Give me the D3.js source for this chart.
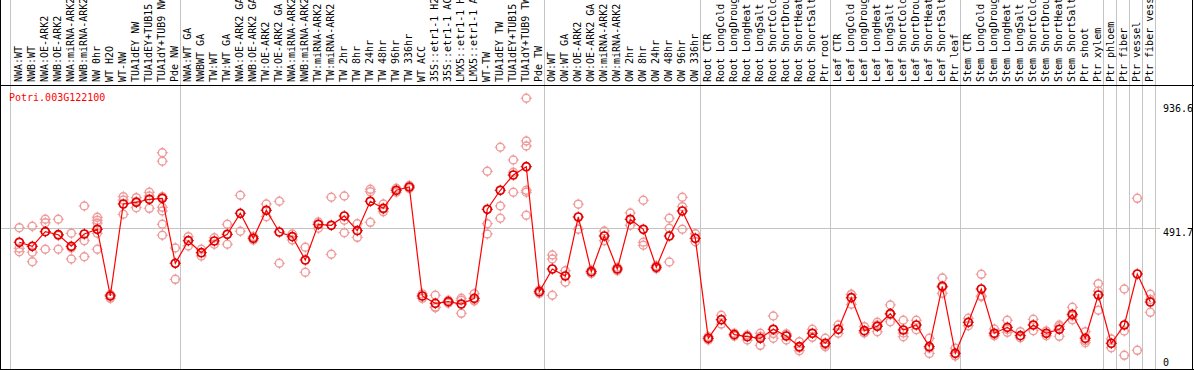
<!DOCTYPE html>
<html><head><meta charset="utf-8">
<script src="https://cdn.jsdelivr.net/npm/d3@7"></script>
<style>
body{margin:0;background:#fff}
svg{display:block}
text{font-family:"DejaVu Sans Mono",monospace;font-size:10px}
</style>
</head><body>
<svg id="c" width="1194" height="370"></svg>
<script>
const geneId = "Potri.003G122100";

const categories = [
  "NWA:WT","NWB:WT","NWA:OE-ARK2","NWB:OE-ARK2","NWA:miRNA-ARK2","NWB:miRNA-ARK2","NW 0hr","WT H2O","WT-NW",
  "TUA1dEY NW","TUA1dEY+TUB15","TUA1dY+TUB9 NW","Pde NW",
  "NWA:WT GA","NWBWT GA","TW:WT","TW:WT GA","NWA:OE-ARK2 GA","NWB:OE-ARK2 GA","TW:OE-ARK2","TW:OE-ARK2 GA",
  "NWA:miRNA-ARK2","NWB:miRNA-ARK2","TW:miRNA-ARK2","TW:miRNA-ARK2","TW 2hr","TW 8hr","TW 24hr","TW 48hr","TW 96hr","TW 336hr",
  "WT ACC","35S::etr1-1 H2O","35S::etr1-1 ACC","LMX5::etr1-1 H2O","LMX5::etr1-1 ACC","WT-TW","TUA1dEY TW","TUA1dEY+TUB15",
  "TUA1dY+TUB9 TW","Pde TW",
  "OW:WT","OW:WT GA","OW:OE-ARK2","OW:OE-ARK2 GA","OW:miRNA-ARK2","OW:miRNA-ARK2","OW 2hr","OW 8hr","OW 24hr","OW 48hr","OW 96hr","OW 336hr",
  "Root CTR","Root LongCold","Root LongDrought","Root LongHeat","Root LongSalt","Root ShortCold","Root ShortDrought","Root ShortHeat","Root ShortSalt","Ptr root",
  "Leaf CTR","Leaf LongCold","Leaf LongDrought","Leaf LongHeat","Leaf LongSalt","Leaf ShortCold","Leaf ShortDrought","Leaf ShortHeat","Leaf ShortSalt","Ptr leaf",
  "Stem CTR","Stem LongCold","Stem LongDrought","Stem LongHeat","Stem LongSalt","Stem ShortCold","Stem ShortDrought","Stem ShortHeat","Stem ShortSalt","Ptr shoot",
  "Ptr xylem","Ptr phloem","Ptr fiber","Ptr vessel","Ptr fiber vessel"
];

const means = [
  441.7,427.3,479.6,468.8,427.3,471.4,488.2,249.5,578.7,584.8,595.6,599.1,366.5,
  447.4,404.4,446.3,470.3,545.4,456.0,556.2,478.5,461.7,378.3,506.1,502.5,535.8,483.2,588.4,563.3,627.8,639.6,
  249.5,223.3,229.1,220.8,241.2,559.8,627.8,682.5,712.2,264.8,
  346.1,321.0,532.2,336.4,464.2,346.1,524.0,488.2,352.2,464.2,553.7,456.0,
  98.1,164.6,111.0,103.8,98.1,130.3,106.3,68.0,116.0,80.2,
  130.3,243.4,125.3,141.0,186.1,127.8,145.7,68.0,284.2,44.4,
  155.3,274.5,116.0,137.4,107.4,145.7,116.0,130.3,184.0,98.1,
  253.0,80.2,145.7,328.2,228.0
];

const replicates = [
  [493.9,420.2,408.0],[498.9,405.9,372.2],[524.0,511.8,416.6],[524.0,416.6,466],[473.9,421.3,381.9],
  [571.6,447.4,390.1],[531.1,520.4,510.7,473.9,416.6],[253,255,241],[604.9,593.0,541.9],[601.3,565.5,587],
  [620.6,607.4,563.3],[762.3,731.6,604.9,566.9,553.7,506.1,466.7],[421.3,309.2],
  [461.7,428.4],[416.6,392.6],[434.5,458],[506.1,434.5],[609.9,481.0],[450,462],[578.7,533.3],[588.4,366.5],
  [471.4,449.9],[423.8,334.3],[514.3,491.8],[602.7,398.7],[607.4,520.4,476.0],[508.2,459.5],[631.3,622.7,513.2],
  [578.7,551.2,560],[620.6,635],[634,645],
  [241.2,257],[252.0,207.6,210],[224,234],[241.2,187.5,234],[257.7,231.6,234],[695.8,508.2,471.4],
  [781.7,571.6,527.6],[736.2,692.2,620.6],[957.0,804.2,786.3,627.8,620.6,538.3],[259,271],
  [396.2,381.9,252.0],[340.0,298.5],[578.0,488.2],[330,342],[482.1,447.4],[340.0,352],[546.5,502.5],
  [592.0,441.7,430.9],[347,358],[527.6,491.8,371.1],[602.7,569.1,488.2],[472.4,443.8],
  [92,104],[180.4,149],[116,106],[109.9,92.0],[116.0,73.0,105],[177.9,98.1,115],[112.4,92.0,114],
  [85.9,53.7,64],[130.3,101.6],[98.1,68.0,74],
  [145.7,116.0],[255.5,219.8,255],[139.6,119.5,117],[155.3,121.7,146],[217.3,157.5,183],[162.5,103.8,117],
  [162.5,129],[98.1,62.3,44],[313.9,259.1,280],[62.3,34.7,36],
  [169.6,143.2],[327.1,247.0,250],[131.3,107.4,109],[162.5,119.5,130],[121.7,100],[166.1,125.3],
  [124.2,107.4],[145.7,105.2,140],[209.0,164.6,178],[121.7,82.3,90],
  [293.5,198.3,267],[95.6,64.4],[274.5,124.2,37.2],[599.1,55.1],[255.5,191.1,237]
];

const axisTicks = [0, 491.7, 936.6];
const gridValues = [491.7];
const groupEnds = [12, 40, 52, 62, 72, 83, 84, 85, 86, 87];

// ---------- drawing ----------
const W = 1194, H = 370;
const svg = d3.select("#c");
const n = categories.length;

const x = d3.scaleBand().domain(d3.range(n)).range([10, 10 + 13 * n]).paddingInner(0).paddingOuter(0);
const cx = i => x(i) + 9.3;
const y = d3.scaleLinear().domain([0, 936.6]).range([365.7, 104]);

const gray = "#c4c4c4";

// vertical group separators
const sepX = [10].concat(groupEnds.map(i => x(i) + x.bandwidth() + 1));
svg.append("g").selectAll("line").data(sepX).join("line")
  .attr("x1", d => Math.round(d) + 0.5).attr("x2", d => Math.round(d) + 0.5)
  .attr("y1", 0).attr("y2", H)
  .attr("stroke", gray).attr("stroke-width", 1);

// horizontal grid
svg.append("g").selectAll("line").data(gridValues).join("line")
  .attr("x1", 1).attr("x2", 1160)
  .attr("y1", d => Math.round(y(d)) + 0.5).attr("y2", d => Math.round(y(d)) + 0.5)
  .attr("stroke", gray).attr("stroke-width", 1);

// frame
svg.append("line").attr("x1", 0).attr("x2", W).attr("y1", 85.5).attr("y2", 85.5).attr("stroke", "#000");
svg.append("line").attr("x1", 0.5).attr("x2", 0.5).attr("y1", 0).attr("y2", H).attr("stroke", "#000");
svg.append("line").attr("x1", 1192.5).attr("x2", 1192.5).attr("y1", 0).attr("y2", H).attr("stroke", "#000");
svg.append("line").attr("x1", 0).attr("x2", W).attr("y1", 369.5).attr("y2", 369.5).attr("stroke", "#000");

// category labels
svg.append("g").selectAll("text").data(categories).join("text")
  .attr("transform", (d, i) => `translate(${cx(i) + 2.5},82) rotate(-90)`)
  .attr("fill", "#000")
  .text(d => d);

// title
svg.append("text").attr("x", 9).attr("y", 100.5).attr("fill", "#ff0000").text(geneId);

// right axis labels
svg.append("g").selectAll("text").data(axisTicks).join("text")
  .attr("x", 1163)
  .attr("y", d => d === 0 ? y(d) : y(d) + 7.5)
  .attr("fill", "#000")
  .text(d => d === 0 ? "0" : d3.format(".1f")(d));

// marker helper
function marker(sel, color, sw) {
  sel.append("circle").attr("r", 4).attr("fill", "none").attr("stroke", color).attr("stroke-width", sw);
  [[0,-1],[0,1],[-1,0],[1,0]].forEach(([dx,dy]) => {
    sel.append("line")
      .attr("x1", dx * 3.2).attr("y1", dy * 3.2)
      .attr("x2", dx * 5.6).attr("y2", dy * 5.6)
      .attr("stroke", color).attr("stroke-width", 1);
  });
}

// replicates
const reps = [];
replicates.forEach((arr, i) => arr.forEach(v => reps.push({i, v})));
svg.append("g").selectAll("g").data(reps).join("g")
  .attr("transform", d => `translate(${cx(d.i)},${y(d.v)})`)
  .each(function() { marker(d3.select(this), "#ef9a9a", 1.4); });

// mean line
svg.append("path")
  .datum(means)
  .attr("fill", "none").attr("stroke", "#ff0000").attr("stroke-width", 1.2)
  .attr("d", d3.line().x((d, i) => cx(i)).y(d => y(d)));

// mean markers
svg.append("g").selectAll("g").data(means).join("g")
  .attr("transform", (d, i) => `translate(${cx(i)},${y(d)})`)
  .each(function() { marker(d3.select(this), "#e00000", 1.7); });
</script>
</body></html>
